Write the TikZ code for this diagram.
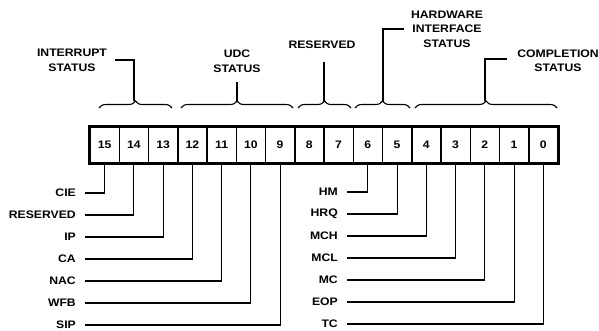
\documentclass[tikz,border=0pt]{standalone}
\usepackage{fontspec}
\newfontfamily\lbl[FakeStretch=1.12]{Liberation Sans}
\usetikzlibrary{decorations.pathreplacing}
\begin{document}
\begin{tikzpicture}[x=1pt,y=-1pt,
  every node/.style={font=\lbl\bfseries\fontsize{10.9}{14.5}\selectfont, inner sep=0pt},
  cell/.style={draw, line width=1.5pt, minimum width=29.25pt, minimum height=36pt},
  wire/.style={line width=1.1pt},
  brc/.style={line width=1.1pt, decorate, decoration={brace, amplitude=7pt}},
  head/.style={align=center}]
\useasboundingbox (0,0) rectangle (599,331);
% register cells
\foreach \b in {15,...,0} {
  \pgfmathsetmacro{\xx}{90+29.25*(15-\b+0.5)}
  \node[cell] (c\b) at (\xx,145) {\b};
}
\draw[line width=2pt] (c15.north west) rectangle (c0.south east);
% left labels
\foreach \b/\t [count=\k from 0] in {15/CIE,14/RESERVED,13/IP,12/CA,11/NAC,10/WFB,9/SIP} {
  \node[anchor=east] (l\b) at (76,{193+22*\k}) {\t};
  \draw[wire] (c\b.south) |- ([xshift=9pt]l\b.east);
}
% right labels
\foreach \b/\t [count=\k from 0] in {6/HM,5/HRQ,4/MCH,3/MCL,2/MC,1/EOP,0/TC} {
  \node[anchor=east] (l\b) at (338,{192+22*\k}) {\t};
  \draw[wire] (c\b.south) |- ([xshift=9pt]l\b.east);
}
% braces
\coordinate (a1) at (99,108);  \coordinate (z1) at (172,108);
\coordinate (a2) at (181,108); \coordinate (z2) at (293,108);
\coordinate (a3) at (298,108); \coordinate (z3) at (351,108);
\coordinate (a4) at (355,108); \coordinate (z4) at (410,108);
\coordinate (a5) at (415,108); \coordinate (z5) at (557,108);
\foreach \i in {1,...,5} { \draw[brc] (a\i) -- (z\i); }
% brace tips
\coordinate (b1) at (134,101);
\coordinate (b2) at (237,101);
\coordinate (b3) at (324,101);
\coordinate (b4) at (383,101);
\coordinate (b5) at (485,101);
% headings
\node[head] (h1) at (72,60.5) {INTERRUPT\\STATUS};
\node[head] (h2) at (237,61.5) {UDC\\STATUS};
\node[head] (h3) at (322,45) {RESERVED};
\node[head] (h4) at (447,29) {HARDWARE\\INTERFACE\\STATUS};
\node[head] (h5) at (558,60.5) {COMPLETION\\STATUS};
\coordinate (e1) at (115,60);
\coordinate (e4) at (404,29);
\coordinate (e5) at (507,59);
\draw[wire] (b1) |- (e1);
\draw[wire] (b2) -- (b2 |- 0,82);
\draw[wire] (b3) -- (b3 |- 0,62);
\draw[wire] (b4) |- (e4);
\draw[wire] (b5) |- (e5);
\end{tikzpicture}
\end{document}
